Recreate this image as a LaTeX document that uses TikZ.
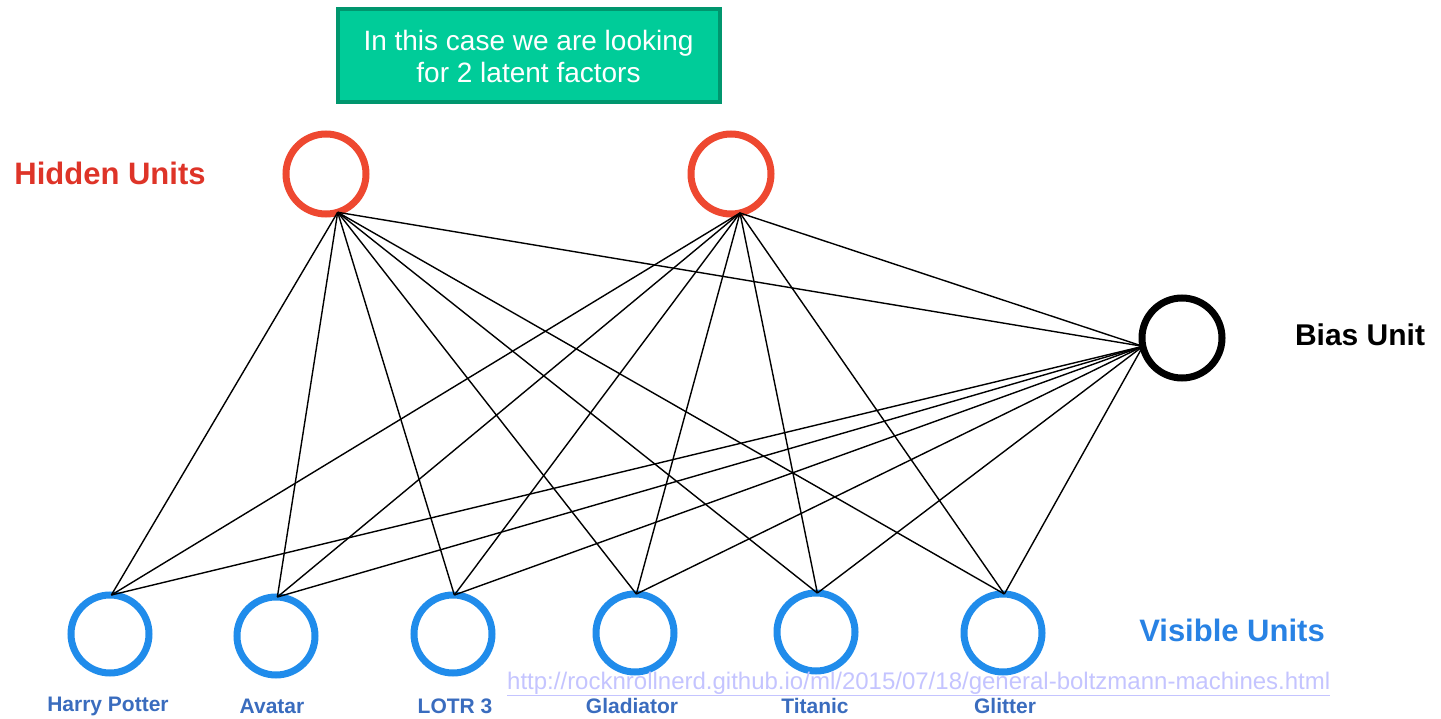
\documentclass[tikz,border=0pt]{standalone}
\usepackage{fontspec}
\setmainfont{Liberation Sans}
\definecolor{hidred}{RGB}{238,72,48}
\definecolor{hidlab}{RGB}{222,52,40}
\definecolor{visblue}{RGB}{32,140,235}
\definecolor{vislab}{RGB}{58,108,190}
\definecolor{vistitle}{RGB}{40,130,228}
\definecolor{boxfill}{RGB}{0,204,153}
\definecolor{boxdraw}{RGB}{0,150,110}
\definecolor{urlcol}{RGB}{196,196,255}
\tikzset{
  unit/.style={circle, minimum size=80pt, line width=7pt, outer sep=0pt, fill=white},
  hid/.style={unit, draw=hidred},
  vis/.style={unit, draw=visblue, minimum size=78pt},
  bias/.style={unit, draw=black},
  edge/.style={line width=1.4pt, black},
  biglab/.style={font=\fontsize{31}{34}\selectfont\bfseries, inner sep=0pt},
  movlab/.style={font=\fontsize{21}{24}\selectfont\bfseries, text=vislab, inner sep=0pt},
}
\begin{document}
\begin{tikzpicture}[x=1pt,y=-1pt]
\useasboundingbox (0,0) rectangle (1441,719);
% note box
\node[draw=boxdraw, fill=boxfill, line width=4pt, minimum width=382pt, minimum height=93pt,
      text=white, align=center, font=\fontsize{28}{32}\selectfont] (note) at (528.5,56)
      {In this case we are looking\\for 2 latent factors};
% units
\node[hid] (h1) at (326,174) {};
\node[hid] (h2) at (731,174) {};
\node[bias] (b) at (1182,338) {};
\node[vis] (v1) at (110,634) {};
\node[vis] (v2) at (276,636) {};
\node[vis] (v3) at (453,634) {};
\node[vis] (v4) at (635,633) {};
\node[vis] (v5) at (816,632) {};
\node[vis] (v6) at (1003,633) {};
% junction points
\coordinate (h1p) at (h1.-73);
\coordinate (h2p) at (h2.-77);
\coordinate (bp) at (b.-168);
\foreach \i in {1,...,6} { \coordinate (v\i p) at (v\i.88); }
% edges
\foreach \i in {1,...,6} {
  \draw[edge] (h1p) -- (v\i p);
  \draw[edge] (h2p) -- (v\i p);
  \draw[edge] (bp) -- (v\i p);
}
\draw[edge] (h1p) -- (bp);
\draw[edge] (h2p) -- (bp);
% labels
\node[biglab, text=hidlab] (lh) at (110,173) {Hidden Units};
\node[biglab, font=\fontsize{30}{34}\selectfont\bfseries, text=black] (lb) at (1360,335) {Bias Unit};
\node[biglab, text=vistitle] (lv) at (1232,630) {Visible Units};
\node[movlab] (m1) at (108,706) {Harry Potter};
\node[movlab] (m2) at (272,706) {Avatar};
\node[movlab] (m3) at (455,706) {LOTR 3};
\node[movlab] (m4) at (632,706) {Gladiator};
\node[movlab] (m5) at (815,706) {Titanic};
\node[movlab] (m6) at (1005,706) {Glitter};
% url
\node[text=urlcol, font=\fontsize{24}{26}\selectfont, inner sep=0pt, anchor=west] (url) at (507,684)
  {\underline{http://rocknrollnerd.github.io/ml/2015/07/18/general-boltzmann-machines.html}};
\end{tikzpicture}
\end{document}
